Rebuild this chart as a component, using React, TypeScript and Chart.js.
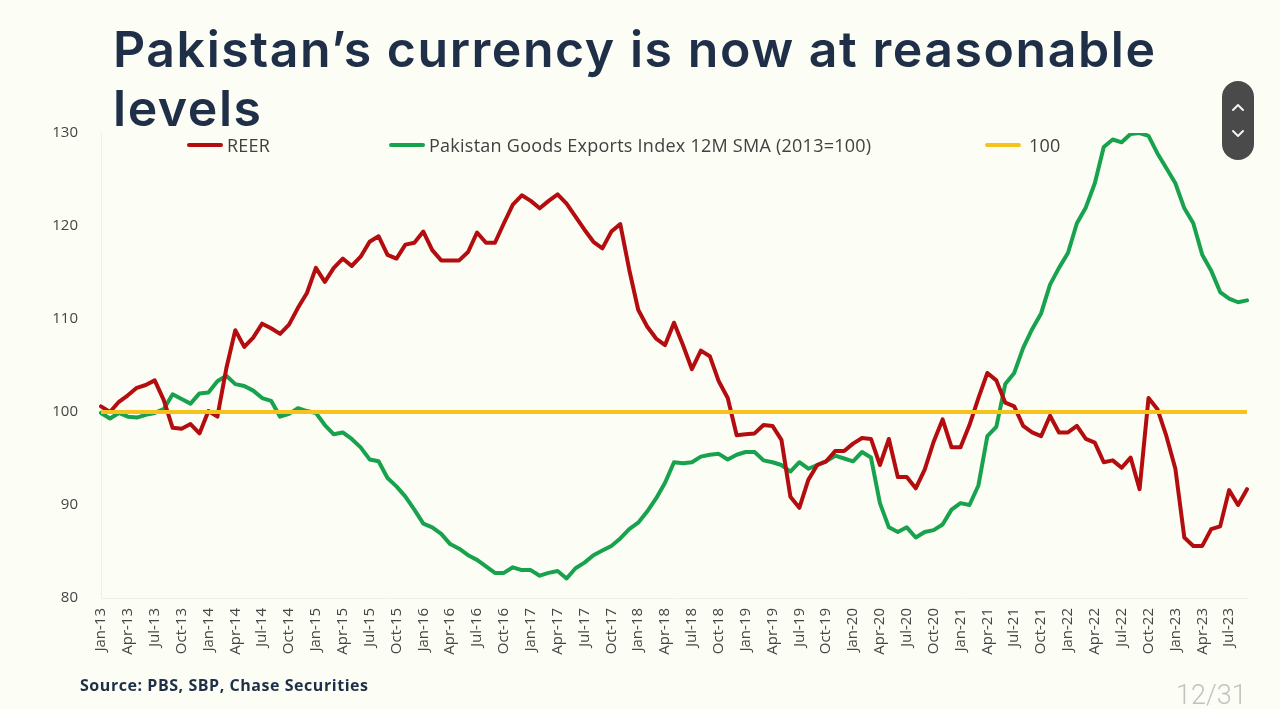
import React, { useEffect, useRef } from "react";
import { Chart, registerables } from "chart.js";

Chart.register(...registerables);

// ---------- data ----------
const categories = [
  "Jan-13","Feb-13","Mar-13","Apr-13","May-13","Jun-13","Jul-13","Aug-13","Sep-13","Oct-13","Nov-13","Dec-13",
  "Jan-14","Feb-14","Mar-14","Apr-14","May-14","Jun-14","Jul-14","Aug-14","Sep-14","Oct-14","Nov-14","Dec-14",
  "Jan-15","Feb-15","Mar-15","Apr-15","May-15","Jun-15","Jul-15","Aug-15","Sep-15","Oct-15","Nov-15","Dec-15",
  "Jan-16","Feb-16","Mar-16","Apr-16","May-16","Jun-16","Jul-16","Aug-16","Sep-16","Oct-16","Nov-16","Dec-16",
  "Jan-17","Feb-17","Mar-17","Apr-17","May-17","Jun-17","Jul-17","Aug-17","Sep-17","Oct-17","Nov-17","Dec-17",
  "Jan-18","Feb-18","Mar-18","Apr-18","May-18","Jun-18","Jul-18","Aug-18","Sep-18","Oct-18","Nov-18","Dec-18",
  "Jan-19","Feb-19","Mar-19","Apr-19","May-19","Jun-19","Jul-19","Aug-19","Sep-19","Oct-19","Nov-19","Dec-19",
  "Jan-20","Feb-20","Mar-20","Apr-20","May-20","Jun-20","Jul-20","Aug-20","Sep-20","Oct-20","Nov-20","Dec-20",
  "Jan-21","Feb-21","Mar-21","Apr-21","May-21","Jun-21","Jul-21","Aug-21","Sep-21","Oct-21","Nov-21","Dec-21",
  "Jan-22","Feb-22","Mar-22","Apr-22","May-22","Jun-22","Jul-22","Aug-22","Sep-22","Oct-22","Nov-22","Dec-22",
  "Jan-23","Feb-23","Mar-23","Apr-23","May-23","Jun-23","Jul-23","Aug-23","Sep-23",
];

const reerValues = [
  100.6, 100.0, 101.1, 101.8, 102.6, 102.9, 103.4, 101.3, 98.3, 98.2, 98.7, 97.7,
  100.1, 99.5, 104.7, 108.8, 107.0, 108.0, 109.5, 109.0, 108.4, 109.4, 111.2, 112.8,
  115.5, 114.0, 115.5, 116.5, 115.7, 116.7, 118.3, 118.9, 116.9, 116.5, 118.0, 118.2,
  119.4, 117.4, 116.3, 116.3, 116.3, 117.2, 119.3, 118.2, 118.2, 120.3, 122.3, 123.3,
  122.7, 121.9, 122.7, 123.4, 122.4, 121.0, 119.6, 118.3, 117.6, 119.4, 120.2, 115.3,
  111.0, 109.2, 107.9, 107.2, 109.6, 107.2, 104.6, 106.6, 106.0, 103.3, 101.5, 97.5,
  97.6, 97.7, 98.6, 98.5, 97.0, 90.9, 89.7, 92.7, 94.3, 94.7, 95.8, 95.8,
  96.6, 97.2, 97.1, 94.3, 97.1, 93.0, 93.0, 91.8, 93.8, 96.8, 99.2, 96.2,
  96.2, 98.6, 101.5, 104.2, 103.4, 101.0, 100.6, 98.5, 97.8, 97.4, 99.6, 97.8,
  97.8, 98.5, 97.1, 96.7, 94.6, 94.8, 94.0, 95.1, 91.7, 101.5, 100.3, 97.4,
  93.9, 86.5, 85.6, 85.6, 87.4, 87.7, 91.6, 90.0, 91.7,
];

const exportsIndexValues = [
  99.9, 99.3, 99.9, 99.5, 99.4, 99.7, 99.9, 100.3, 101.9, 101.4, 100.9, 102.0,
  102.1, 103.3, 103.9, 103.0, 102.8, 102.3, 101.5, 101.2, 99.5, 99.8, 100.4, 100.1,
  99.9, 98.6, 97.6, 97.8, 97.1, 96.2, 94.9, 94.7, 92.9, 92.0, 90.9, 89.5,
  88.0, 87.6, 86.9, 85.8, 85.3, 84.6, 84.1, 83.4, 82.7, 82.7, 83.3, 83.0,
  83.0, 82.4, 82.7, 82.9, 82.1, 83.2, 83.8, 84.6, 85.1, 85.6, 86.4, 87.4,
  88.1, 89.3, 90.7, 92.4, 94.6, 94.5, 94.6, 95.2, 95.4, 95.5, 94.9, 95.4,
  95.7, 95.7, 94.8, 94.6, 94.3, 93.6, 94.6, 93.9, 94.3, 94.7, 95.3, 95.0,
  94.7, 95.7, 95.1, 90.2, 87.6, 87.1, 87.6, 86.5, 87.1, 87.3, 87.9, 89.5,
  90.2, 90.0, 92.1, 97.4, 98.4, 103.0, 104.2, 106.9, 108.9, 110.6, 113.7, 115.5,
  117.1, 120.3, 122.0, 124.6, 128.5, 129.3, 129.0, 129.9, 130.0, 129.7, 127.8, 126.2,
  124.6, 121.9, 120.3, 116.9, 115.2, 112.9, 112.2, 111.8, 112.0,
];

const referenceLevel = 100;
const yAxisMin = 80;
const yAxisMax = 130;
const yAxisStep = 10;
const xLabelEvery = 3;

const legendLabels = ["REER", "Pakistan Goods Exports Index 12M SMA (2013=100)", "100"];
const titleText = "Pakistan’s currency is now at reasonable levels";
const sourceText = "Source: PBS, SBP, Chase Securities";
const pageText = "12/31";

// ---------- styles ----------
const BG = "#fcfdf5";
const RED = "#b30d0f";
const GREEN = "#18a24e";
const YELLOW = "#f6c21c";
const NAVY = "#1f2f48";
const TICK = "#454545";
const FONT = "'Open Sans', 'DejaVu Sans', sans-serif";

export default function App() {
  const canvasRef = useRef<HTMLCanvasElement | null>(null);

  useEffect(() => {
    document.body.style.margin = "0";
    const canvas = canvasRef.current;
    if (!canvas) return;
    const chart = new Chart(canvas, {
      type: "line",
      data: {
        labels: categories,
        datasets: [
          {
            label: legendLabels[0],
            data: reerValues,
            borderColor: RED,
            backgroundColor: RED,
            borderWidth: 4,
            pointRadius: 0,
            tension: 0,
            borderJoinStyle: "round",
            borderCapStyle: "round",
            order: 1,
          },
          {
            label: legendLabels[1],
            data: exportsIndexValues,
            borderColor: GREEN,
            backgroundColor: GREEN,
            borderWidth: 4,
            pointRadius: 0,
            tension: 0,
            borderJoinStyle: "round",
            borderCapStyle: "round",
            order: 2,
          },
          {
            label: legendLabels[2],
            data: categories.map(() => referenceLevel),
            borderColor: YELLOW,
            backgroundColor: YELLOW,
            borderWidth: 4,
            pointRadius: 0,
            tension: 0,
            order: 0,
          },
        ],
      },
      options: {
        animation: false,
        responsive: false,
        maintainAspectRatio: false,
        devicePixelRatio: 1,
        layout: { padding: { left: 0, top: 133, right: 33, bottom: 0 } },
        plugins: {
          legend: { display: false },
          tooltip: { enabled: false },
          title: { display: false },
        },
        scales: {
          x: {
            type: "category",
            offset: false,
            grid: { display: false, drawTicks: false },
            border: { display: true, color: "#f0f0e6", width: 1 },
            ticks: {
              autoSkip: false,
              minRotation: 90,
              maxRotation: 90,
              padding: 10,
              color: TICK,
              font: { family: FONT, size: 15 },
              callback: (_v: any, i: number) => (i % xLabelEvery === 0 ? categories[i] : ""),
            },
            afterFit: (s: any) => {
              s.height = 111;
            },
          },
          y: {
            min: yAxisMin,
            max: yAxisMax,
            grid: { display: false, drawTicks: false },
            border: { display: true, color: "#f0f0e6", width: 1 },
            ticks: {
              stepSize: yAxisStep,
              padding: 23,
              color: TICK,
              font: { family: FONT, size: 15 },
            },
            afterFit: (s: any) => {
              s.width = 101;
            },
          },
        },
      },
    } as any);
    return () => chart.destroy();
  }, []);

  const legendColors = [RED, GREEN, YELLOW];
  const legendLefts = [187, 389, 985];

  return (
    <div
      style={{
        position: "fixed",
        left: 0,
        top: 0,
        width: 1280,
        height: 709,
        background: BG,
        overflow: "hidden",
      }}
    >
      <canvas
        ref={canvasRef}
        width={1280}
        height={709}
        style={{ position: "absolute", left: 0, top: 0, width: 1280, height: 709 }}
      />
      <div
        style={{
          position: "absolute",
          left: 113,
          top: 20,
          width: 1120,
          fontFamily: "Inter, 'Open Sans', sans-serif",
          fontWeight: 600,
          fontSize: 50,
          letterSpacing: "1.55px",
          lineHeight: "59px",
          color: NAVY,
          whiteSpace: "normal",
        }}
      >
        {titleText}
      </div>
      {legendLabels.map((lab, i) => (
        <div
          key={lab}
          style={{
            position: "absolute",
            left: legendLefts[i],
            top: 133,
            height: 24,
            display: "flex",
            alignItems: "center",
            fontFamily: FONT,
            fontSize: 18,
            letterSpacing: "0.25px",
            color: "#404040",
            whiteSpace: "nowrap",
          }}
        >
          <span
            style={{
              display: "inline-block",
              width: 36,
              height: 4,
              borderRadius: 2,
              background: legendColors[i],
              marginRight: i === 2 ? 8 : 4,
            }}
          />
          <span>{lab}</span>
        </div>
      ))}
      <div
        style={{
          position: "absolute",
          left: 80,
          top: 674,
          fontFamily: FONT,
          fontWeight: 700,
          fontSize: 16,
          letterSpacing: "0.55px",
          color: NAVY,
          whiteSpace: "nowrap",
        }}
      >
        {sourceText}
      </div>
      <div
        style={{
          position: "absolute",
          left: 1176,
          top: 680,
          fontFamily: "Roboto, sans-serif",
          fontWeight: 300,
          fontSize: 27,
          lineHeight: "30px",
          color: "#c2c2c2",
          whiteSpace: "nowrap",
        }}
      >
        {pageText}
      </div>
      <div
        style={{
          position: "absolute",
          left: 1222,
          top: 81,
          width: 32,
          height: 79,
          borderRadius: 16,
          background: "#4a4a4a",
        }}
      >
        <svg width={32} height={79} viewBox="0 0 32 79">
          <polyline points="11,29 16,24 21,29" fill="none" stroke="#f2f2f2" strokeWidth={2} strokeLinecap="round" strokeLinejoin="round" />
          <polyline points="11,50 16,55 21,50" fill="none" stroke="#f2f2f2" strokeWidth={2} strokeLinecap="round" strokeLinejoin="round" />
        </svg>
      </div>
    </div>
  );
}
